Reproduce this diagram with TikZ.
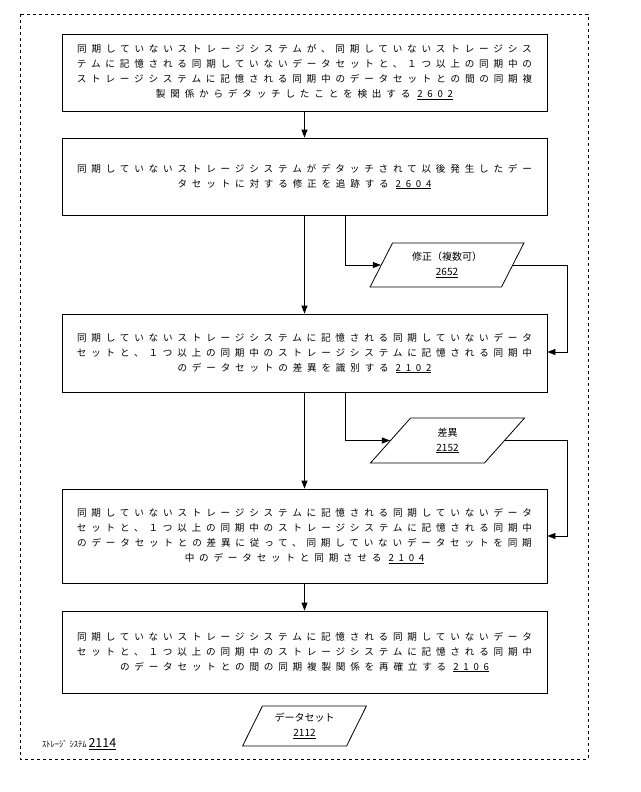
\documentclass[tikz,border=0pt]{standalone}
\usepackage{fontspec}
\newfontfamily\jp[LetterSpace=50]{Noto Sans CJK JP}
\newfontfamily\jpn{Noto Sans CJK JP}
\usetikzlibrary{arrows.meta,shapes.geometric}
\begin{document}
\begin{tikzpicture}[x=1pt,y=-1pt,
  stepbox/.style={draw,thick,minimum width=485pt,align=center,font=\jp\fontsize{9.6}{15}\selectfont,inner sep=0pt},
  io/.style={draw,thick,trapezium,trapezium left angle=64,trapezium right angle=116,trapezium stretches=true,align=center,font=\jpn\fontsize{10}{15}\selectfont},
  arr/.style={-{Triangle[length=8pt,width=6pt]},thick}]
\useasboundingbox (0,0) rectangle (640,792);
\draw[dashed,thick] (20,14) rectangle (588,759);
\node[stepbox,minimum height=77pt] (b1) at (304.5,72.5) {同期していないストレージシステムが、同期していないストレージシス\\テムに記憶される同期していないデータセットと、１つ以上の同期中の\\ストレージシステムに記憶される同期中のデータセットとの間の同期複\\製関係からデタッチしたことを検出する \underline{2602}};
\node[stepbox,minimum height=77pt] (b2) at (304.5,176.5) {同期していないストレージシステムがデタッチされて以後発生したデー\\タセットに対する修正を追跡する \underline{2604}};
\node[stepbox,minimum height=78pt] (b3) at (304.5,353) {同期していないストレージシステムに記憶される同期していないデータ\\セットと、１つ以上の同期中のストレージシステムに記憶される同期中\\のデータセットの差異を識別する \underline{2102}};
\node[stepbox,minimum height=94pt] (b4) at (304.5,536) {同期していないストレージシステムに記憶される同期していないデータ\\セットと、１つ以上の同期中のストレージシステムに記憶される同期中\\のデータセットとの差異に従って、同期していないデータセットを同期\\中のデータセットと同期させる \underline{2104}};
\node[stepbox,minimum height=82pt] (b5) at (304.5,652) {同期していないストレージシステムに記憶される同期していないデータ\\セットと、１つ以上の同期中のストレージシステムに記憶される同期中\\のデータセットとの間の同期複製関係を再確立する \underline{2106}};
\node[io,minimum height=44pt,minimum width=154pt] (m) at (447,265) {修正（複数可）\\\underline{2652}};
\node[io,minimum height=45pt,minimum width=155pt] (d) at (447.5,440.5) {差異\\\underline{2152}};
\node[io,minimum height=40pt,minimum width=125pt] (ds) at (304.5,726) {データセット\\\underline{2112}};
\node[font=\jpn\fontsize{8.5}{9}\selectfont,anchor=west,inner sep=0pt] (lbl) at (42,744) {ｽﾄﾚｰｼﾞ ｼｽﾃﾑ \fontsize{12.5}{12}\selectfont\underline{2114}};
\coordinate (c2) at (304.5,215);
\draw[arr] (b1.south -| c2) -- (b2.north -| c2);
\draw[arr] (c2) -- (b3.north -| c2);
\draw[arr] (b3.south -| c2) -- (b4.north -| c2);
\draw[arr] (b4.south -| c2) -- (b5.north -| c2);
\draw[arr] (345,215) |- (m.west);
\draw[arr] (m.east) -| (567,352) -- (b3.east |- 0,352);
\draw[arr] (345,392) |- (d.west);
\draw[arr] (d.east) -| (567,536) -- (b4.east |- 0,536);
\end{tikzpicture}
\end{document}
